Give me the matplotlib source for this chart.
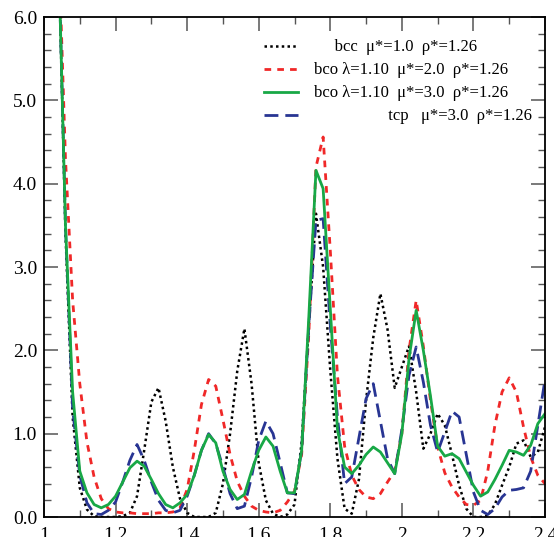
import numpy as np
import matplotlib
matplotlib.use("Agg")
import matplotlib.pyplot as plt
from matplotlib.ticker import MultipleLocator, FormatStrFormatter, FuncFormatter

plt.rcParams['font.family'] = ['Liberation Serif', 'DejaVu Serif']
plt.rcParams['mathtext.fontset'] = 'stix'

# radial distance r (sampled every 0.02)
r = np.linspace(1.04, 2.40, 69)

g_bcc = [6.9, 3.4, 1.2, 0.35, 0.09, 0.01, 0.0, 0.0, 0.0, 0.01,
         0.05, 0.25, 0.8, 1.38, 1.55, 1.15, 0.6, 0.22, 0.05, 0.0,
         0.0, 0.0, 0.05, 0.4, 1.0, 1.75, 2.26, 1.6, 0.65, 0.2,
         0.04, 0.0, 0.03, 0.15, 0.9, 2.3, 3.64, 3.0, 1.76, 0.7,
         0.1, 0.04, 0.45, 1.4, 2.15, 2.68, 2.25, 1.55, 1.8, 2.05,
         1.5, 0.82, 1.0, 1.24, 1.1, 0.75, 0.38, 0.1, 0.0, 0.0,
         0.02, 0.15, 0.38, 0.6, 0.88, 0.92, 0.72, 0.78, 1.08]

g_bco2 = [7.0, 4.3, 2.6, 1.6, 0.9, 0.48, 0.22, 0.1, 0.06, 0.05,
          0.05, 0.04, 0.04, 0.04, 0.05, 0.05, 0.06, 0.11, 0.33, 0.8,
          1.35, 1.65, 1.57, 1.17, 0.75, 0.43, 0.25, 0.13, 0.08, 0.06,
          0.05, 0.08, 0.18, 0.31, 0.75, 2.2, 4.2, 4.56, 3.2, 1.7,
          0.85, 0.5, 0.33, 0.24, 0.22, 0.28, 0.42, 0.55, 1.0, 2.0,
          2.6, 2.05, 1.4, 0.84, 0.53, 0.36, 0.24, 0.15, 0.14, 0.2,
          0.55, 1.1, 1.5, 1.67, 1.5, 1.08, 0.72, 0.5, 0.4]

g_bco3 = [6.9, 3.5, 1.5, 0.55, 0.29, 0.15, 0.11, 0.15, 0.25, 0.42,
          0.59, 0.67, 0.61, 0.45, 0.28, 0.15, 0.11, 0.17, 0.27, 0.5,
          0.8, 0.99, 0.89, 0.55, 0.33, 0.21, 0.27, 0.55, 0.8, 0.96,
          0.85, 0.55, 0.29, 0.29, 0.8, 2.4, 4.16, 3.94, 2.5, 1.05,
          0.6, 0.52, 0.62, 0.75, 0.84, 0.78, 0.65, 0.52, 1.0, 1.9,
          2.48, 2.0, 1.45, 0.85, 0.73, 0.76, 0.70, 0.54, 0.38, 0.25,
          0.30, 0.45, 0.62, 0.80, 0.78, 0.74, 0.86, 1.12, 1.24]

g_tcp = [6.9, 3.5, 1.3, 0.5, 0.17, 0.04, 0.03, 0.08, 0.18, 0.42,
         0.68, 0.87, 0.68, 0.42, 0.2, 0.08, 0.05, 0.08, 0.25, 0.5,
         0.8, 1.0, 0.88, 0.6, 0.28, 0.1, 0.13, 0.48, 0.92, 1.15,
         1.0, 0.65, 0.29, 0.28, 0.8, 2.3, 3.56, 3.58, 2.3, 1.2,
         0.4, 0.48, 0.95, 1.42, 1.6, 1.15, 0.7, 0.52, 1.05, 1.7,
         2.04, 1.62, 1.1, 0.78, 1.02, 1.27, 1.2, 0.75, 0.3, 0.08,
         0.03, 0.1, 0.24, 0.32, 0.33, 0.35, 0.55, 1.1, 1.65]

labels = ["bcc  μ*=1.0  ρ*=1.26",
          "bco λ=1.10  μ*=2.0  ρ*=1.26",
          "bco λ=1.10  μ*=3.0  ρ*=1.26",
          "tcp   μ*=3.0  ρ*=1.26"]

fig = plt.figure(figsize=(5.54, 5.37), dpi=100)
ax = fig.add_axes([44 / 554, 20 / 537, 501 / 554, 500 / 537])

l1, = ax.plot(r, g_bcc, color='black', lw=1.8, linestyle=(0, (1, 1.3)))
l2, = ax.plot(r, g_bco2, color='#f02828', lw=2.0, linestyle=(0, (2.4, 2.2)))
l4, = ax.plot(r, g_tcp, color='#283593', lw=2.0, linestyle=(0, (5, 2.5)))
l3, = ax.plot(r, g_bco3, color='#18a846', lw=2.0)

ax.set_xlim(1.0, 2.4)
ax.set_ylim(0.0, 6.0)

ax.xaxis.set_major_locator(MultipleLocator(0.2))
ax.xaxis.set_minor_locator(MultipleLocator(0.1))
ax.yaxis.set_major_locator(MultipleLocator(1.0))
ax.yaxis.set_minor_locator(MultipleLocator(0.2))
ax.xaxis.set_major_formatter(FuncFormatter(lambda v, p: '%g' % round(v, 2)))
ax.yaxis.set_major_formatter(FormatStrFormatter('%.1f'))

ax.tick_params(which='both', direction='in', top=True, right=True,
               color='#555555', labelsize=14)
ax.tick_params(which='major', length=10, width=1.1)
ax.tick_params(which='minor', length=5, width=1.0)
ax.tick_params(axis='x', pad=7)
ax.tick_params(axis='y', pad=5)
for s in ax.spines.values():
    s.set_linewidth(1.3)

leg = ax.legend([l1, l2, l3, l4],
                ["     " + labels[0], labels[1], labels[2],
                 "                  " + labels[3]],
                loc='upper left', bbox_to_anchor=(0.41, 0.985),
                frameon=False, fontsize=12, handlelength=2.0,
                handletextpad=1.0, labelspacing=0.42)

fig.savefig('out.png', dpi=100)
